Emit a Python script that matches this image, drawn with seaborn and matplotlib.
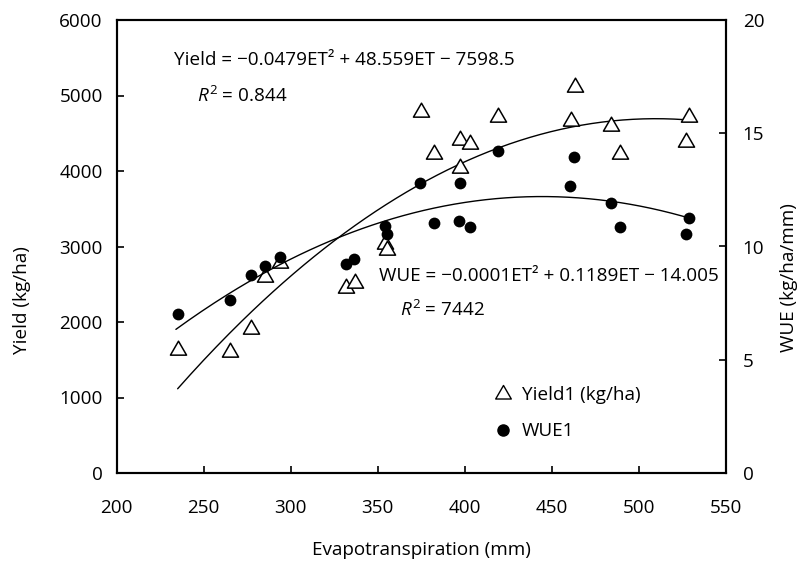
import numpy as np
import pandas as pd
import matplotlib
matplotlib.use("Agg")
import matplotlib.pyplot as plt
import seaborn as sns
from matplotlib.lines import Line2D
from matplotlib.path import Path

# ---- data ----
yield_et = [235, 265, 277, 285, 294, 332, 337, 354, 355, 375, 382.5, 397, 397.3,
            403, 419, 461, 463, 484, 489, 527, 529]
yield_val = [1633, 1607, 1907, 2600, 2777, 2450, 2520, 3033, 2954, 4777, 4220, 4411,
             4044, 4358, 4719, 4667, 5117, 4596, 4225, 4388, 4719]

wue_et = [235, 265, 277, 285, 294, 332, 336.5, 354, 355, 374.5, 382.3, 396.5, 397.3,
          403, 419, 460.5, 462.6, 484, 489, 527, 529]
wue_val = [7.03, 7.65, 8.76, 9.12, 9.55, 9.23, 9.46, 10.9, 10.54, 12.80, 11.05, 11.14,
           12.80, 10.87, 14.22, 12.68, 13.94, 11.93, 10.87, 10.54, 11.26]

x_ticks = [200, 250, 300, 350, 400, 450, 500, 550]
y_ticks = [0, 1000, 2000, 3000, 4000, 5000, 6000]
y2_ticks = [0, 5, 10, 15, 20]

yield_eq = "Yield = \u22120.0479ET\u00b2 + 48.559ET \u2212 7598.5"
yield_r2 = r"$\mathit{R}^{2}$ = 0.844"
wue_eq = "WUE = \u22120.0001ET\u00b2 + 0.1189ET \u2212 14.005"
wue_r2 = r"$\mathit{R}^{2}$ = 7442"

# ---- style ----
sns.set_theme(style="white")
FONT = "Open Sans"
plt.rcParams["font.family"] = [FONT, "DejaVu Sans"]
plt.rcParams["mathtext.fontset"] = "custom"
plt.rcParams["mathtext.rm"] = FONT
plt.rcParams["mathtext.it"] = FONT + ":italic"
for k in ("text.color", "axes.labelcolor", "xtick.color", "ytick.color"):
    plt.rcParams[k] = "black"
FS = 13.6

W, H = 806, 566
fig = plt.figure(figsize=(W / 100, H / 100), dpi=100)
L, R, T, B = 116.7, 726, 20, 473
ax = fig.add_axes([L / W, 1 - B / H, (R - L) / W, (B - T) / H])
ax2 = ax.twinx()

df_y = pd.DataFrame({"ET": yield_et, "Yield": yield_val})
df_w = pd.DataFrame({"ET": wue_et, "WUE": wue_val})

# trend curves (quadratic fits of the data)
cy = np.polyfit(df_y["ET"], df_y["Yield"], 2)
cw = np.polyfit(df_w["ET"], df_w["WUE"], 2)
xs_y = np.linspace(min(yield_et), max(yield_et), 200)
xs_w = np.linspace(min(wue_et) - 1, max(wue_et), 200)
curve_y = pd.DataFrame({"ET": xs_y, "v": np.polyval(cy, xs_y)})
curve_w = pd.DataFrame({"ET": xs_w, "v": np.polyval(cw, xs_w)})

tri = Path([(-1, -0.577), (1, -0.577), (0, 1.155), (-1, -0.577)],
           [Path.MOVETO, Path.LINETO, Path.LINETO, Path.CLOSEPOLY])
sns.lineplot(data=curve_y, x="ET", y="v", ax=ax, color="black", lw=1.0, legend=False)
sns.scatterplot(data=df_y, x="ET", y="Yield", ax=ax, marker=tri, s=180,
                facecolor="white", edgecolor="black", linewidth=1.1, legend=False, zorder=3)

sns.lineplot(data=curve_w, x="ET", y="v", ax=ax2, color="black", lw=1.0, legend=False)
sns.scatterplot(data=df_w, x="ET", y="WUE", ax=ax2, marker="o", s=72,
                color="black", edgecolor="black", linewidth=0, legend=False, zorder=3)

ax.set_xlim(200, 550)
ax.set_ylim(0, 6000)
ax2.set_ylim(0, 20)
ax.set_xticks(x_ticks)
ax.set_yticks(y_ticks)
ax2.set_yticks(y2_ticks)

for a in (ax, ax2):
    for s in a.spines.values():
        s.set_color("black")
        s.set_linewidth(1.5)
        s.set_visible(True)
ax.tick_params(axis="x", direction="in", length=5, width=1.2, color="black",
               labelcolor="black", labelsize=FS, pad=19, bottom=True, top=False)
ax.tick_params(axis="y", direction="in", length=5, width=1.2, color="black",
               labelcolor="black", labelsize=FS, pad=10, left=True, right=False)
ax2.tick_params(axis="y", direction="in", length=5, width=1.2, color="black",
                labelcolor="black", labelsize=FS, pad=12, right=True, left=False)

ax.set_xlabel("Evapotranspiration (mm)", fontsize=FS, labelpad=17, color="black")
ax.set_ylabel("Yield (kg/ha)", fontsize=FS, color="black")
ax2.set_ylabel("WUE (kg/ha/mm)", fontsize=FS, color="black")
ax.yaxis.set_label_coords((31 - L) / (R - L), (B - 300) / (B - T))
ax2.yaxis.set_label_coords((780 - L) / (R - L), (B - 278) / (B - T))

def ftext(px, py, s, **kw):
    fig.text(px / W, 1 - py / H, s, fontsize=FS, ha="left", va="center", color="black", **kw)

ftext(174, 60, yield_eq)
ftext(197, 96, yield_r2)
ftext(379, 276, wue_eq)
ftext(400, 310, wue_r2)

handles = [
    Line2D([], [], marker=tri, linestyle="none", markersize=13, markerfacecolor="white",
           markeredgecolor="black", markeredgewidth=1.0),
    Line2D([], [], marker="o", linestyle="none", markersize=8, color="black"),
]
leg = ax.legend(handles, ["Yield1 (kg/ha)", "WUE1"], frameon=False, fontsize=FS,
                loc="upper left", bbox_to_anchor=(484 / W, 1 - 377 / H),
                bbox_transform=fig.transFigure, handlelength=1.0, handletextpad=0.5,
                labelspacing=0.95, borderpad=0)
for t in leg.get_texts():
    t.set_color("black")

fig.savefig("out.png", dpi=100)
